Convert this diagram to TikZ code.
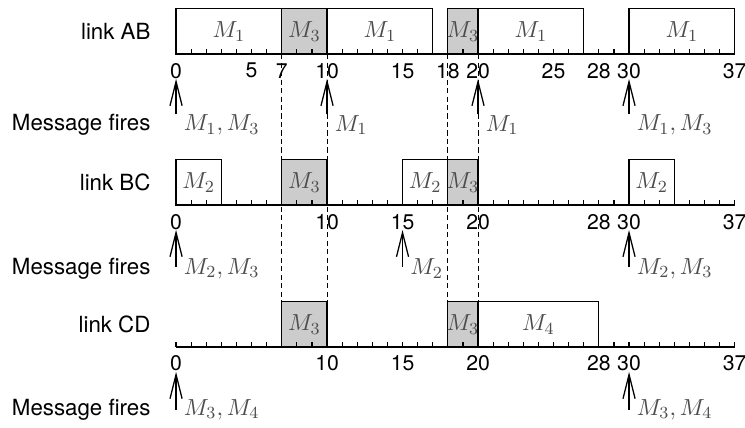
\documentclass[tikz,border=0pt]{standalone}
\usepackage{fontspec}
\setsansfont{TeX Gyre Heros}
\usetikzlibrary{arrows.meta}

\begin{document}
\begin{tikzpicture}[
    x=0.25cm, y=0.25cm,
    font=\sffamily\fontsize{10.5}{12.6}\selectfont,
    >={Straight Barb[length=4mm, width=2mm]},
    slot/.style={draw, line width=0.6pt, fill=white},
    busy/.style={slot, fill=black!20},
    msg/.style={text=black!70, inner sep=0pt, font=\fontsize{11}{13}\selectfont},
    tickno/.style={inner sep=1pt, font=\sffamily\fontsize{10}{12}\selectfont},
    rowlbl/.style={anchor=east},
    axisln/.style={line width=0.6pt},
    guide/.style={line width=0.5pt, dash pattern=on 2.4pt off 1.6pt},
    fire/.style={->, line width=0.6pt},
    firelbl/.style={msg, anchor=west, inner sep=3.5pt},
  ]

  \useasboundingbox (-11.66,3.58) rectangle (37.68,-24.70);

  % guides between the rows
  \foreach \x in {7,10,18,20}
    \draw[guide] (\x,0) -- (\x,-16.4);

  % link AB
  \node[rowlbl] (ab) at (-1.2,1.5) {link AB};
  \foreach \a/\b/\m/\s in {0/7/1/slot, 7/10/3/busy, 10/17/1/slot,
                            18/20/3/busy, 20/27/1/slot, 30/37/1/slot}{
    \draw[\s] (\a,0) rectangle (\b,3);
    \node[msg] (ab-m\a) at ({(\a+\b)/2},1.5) {$M_{\m}$};
  }
  \draw[axisln] (0,0) -- (37,0);
  \foreach \x in {0,...,37} \draw[axisln] (\x,0) -- (\x,0.33);
  \foreach \x in {0,5,7,10,15,18,20,25,28,30,37}
    \node[tickno] (ab-t\x) at (\x,-1.1) {\x};
  \node[rowlbl] (abf) at (-1.2,-4.7) {Message fires};
  \foreach \x/\l in {0/{M_1, M_3}, 10/M_1, 20/M_1, 30/{M_1, M_3}}{
    \node[firelbl] (abf-\x) at (\x,-4.7) {$\l$};
    \draw[fire] (\x,-4.0) -- (\x,-1.65);
  }

  % link BC
  \begin{scope}[shift={(0,-10)}]
    \node[rowlbl] (bc) at (-1.2,1.5) {link BC};
    \foreach \a/\b/\m/\s in {0/3/2/slot, 7/10/3/busy, 15/18/2/slot,
                              18/20/3/busy, 30/33/2/slot}{
      \draw[\s] (\a,0) rectangle (\b,3);
      \node[msg] (bc-m\a) at ({(\a+\b)/2},1.5) {$M_{\m}$};
    }
    \draw[axisln] (0,0) -- (37,0);
    \foreach \x in {0,...,37} \draw[axisln] (\x,0) -- (\x,0.33);
    \foreach \x in {0,10,15,20,28,30,37}
      \node[tickno] (bc-t\x) at (\x,-1.1) {\x};
    \node[rowlbl] (bcf) at (-1.2,-4.2) {Message fires};
    \foreach \x/\l in {0/{M_2, M_3}, 15/M_2, 30/{M_2, M_3}}{
      \node[firelbl] (bcf-\x) at (\x,-4.2) {$\l$};
      \draw[fire] (\x,-4.1) -- (\x,-1.65);
    }
  \end{scope}

  % link CD
  \begin{scope}[shift={(0,-19.4)}]
    \node[rowlbl] (cd) at (-1.2,1.5) {link CD};
    \foreach \a/\b/\m/\s in {7/10/3/busy, 18/20/3/busy, 20/28/4/slot}{
      \draw[\s] (\a,0) rectangle (\b,3);
      \node[msg] (cd-m\a) at ({(\a+\b)/2},1.5) {$M_{\m}$};
    }
    \draw[axisln] (0,0) -- (37,0);
    \foreach \x in {0,...,37} \draw[axisln] (\x,0) -- (\x,0.33);
    \foreach \x in {0,10,15,20,28,30,37}
      \node[tickno] (cd-t\x) at (\x,-1.1) {\x};
    \node[rowlbl] (cdf) at (-1.2,-4.15) {Message fires};
    \foreach \x/\l in {0/{M_3, M_4}, 30/{M_3, M_4}}{
      \node[firelbl] (cdf-\x) at (\x,-4.15) {$\l$};
      \draw[fire] (\x,-4.15) -- (\x,-1.65);
    }
  \end{scope}

\end{tikzpicture}
\end{document}
